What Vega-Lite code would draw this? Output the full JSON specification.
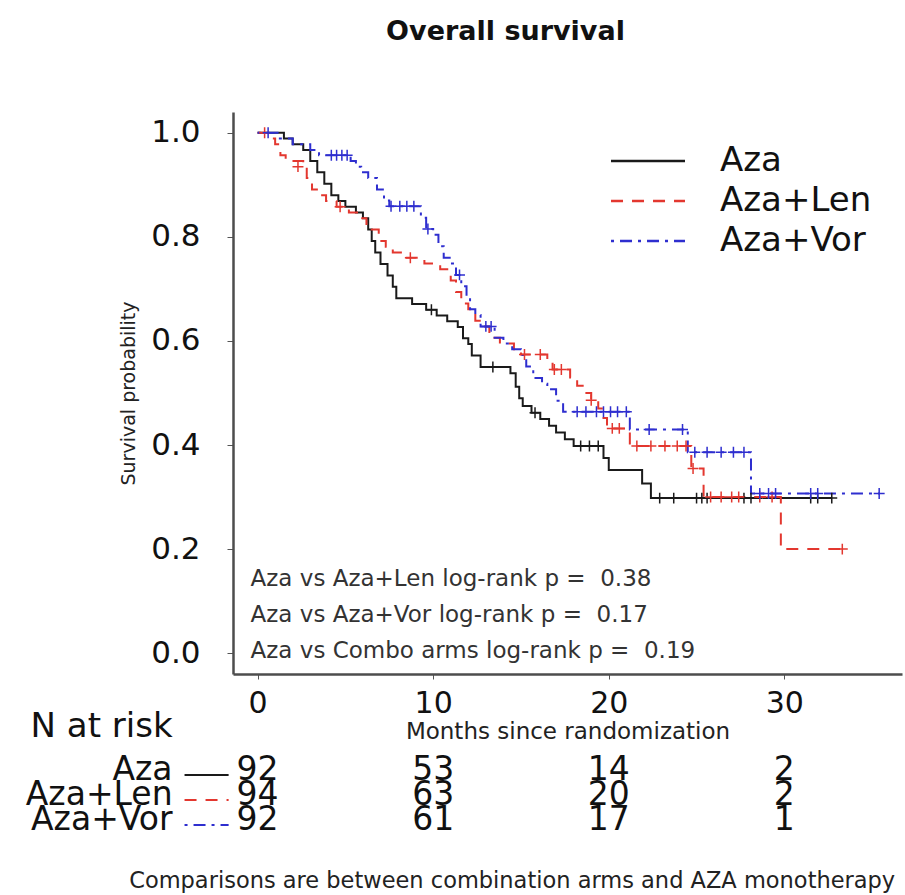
{
  "$schema": "https://vega.github.io/schema/vega-lite/v6.json",
  "width": 669,
  "height": 562,
  "autosize": {"type": "none"},
  "padding": {"left": 233, "top": 112, "right": 3, "bottom": 221},
  "background": "white",
  "config": {"view": {"stroke": null}, "font": "DejaVu Sans"},
  "title": {"text": "Overall survival", "fontSize": 27, "fontWeight": "bold", "font": "DejaVu Sans", "color": "#111", "anchor": "middle", "frame": "group", "dx": -62, "offset": 66},
  "datasets": {
    "km": [
      {"arm": "Aza", "month": 0, "surv": 1.0}, {"arm": "Aza", "month": 1.5, "surv": 0.989}, {"arm": "Aza", "month": 2.0, "surv": 0.978}, {"arm": "Aza", "month": 2.6, "surv": 0.967}, {"arm": "Aza", "month": 3.0, "surv": 0.946}, {"arm": "Aza", "month": 3.4, "surv": 0.924}, {"arm": "Aza", "month": 3.8, "surv": 0.902}, {"arm": "Aza", "month": 4.2, "surv": 0.880}, {"arm": "Aza", "month": 4.6, "surv": 0.869}, {"arm": "Aza", "month": 5.0, "surv": 0.858}, {"arm": "Aza", "month": 5.6, "surv": 0.847}, {"arm": "Aza", "month": 6.0, "surv": 0.836}, {"arm": "Aza", "month": 6.3, "surv": 0.814}, {"arm": "Aza", "month": 6.5, "surv": 0.792}, {"arm": "Aza", "month": 6.7, "surv": 0.770}, {"arm": "Aza", "month": 7.0, "surv": 0.748}, {"arm": "Aza", "month": 7.4, "surv": 0.726}, {"arm": "Aza", "month": 7.7, "surv": 0.704}, {"arm": "Aza", "month": 7.9, "surv": 0.682}, {"arm": "Aza", "month": 8.8, "surv": 0.671}, {"arm": "Aza", "month": 9.6, "surv": 0.660}, {"arm": "Aza", "month": 10.2, "surv": 0.649}, {"arm": "Aza", "month": 10.8, "surv": 0.638}, {"arm": "Aza", "month": 11.4, "surv": 0.627}, {"arm": "Aza", "month": 11.7, "surv": 0.605}, {"arm": "Aza", "month": 12.0, "surv": 0.594}, {"arm": "Aza", "month": 12.2, "surv": 0.572}, {"arm": "Aza", "month": 12.7, "surv": 0.550}, {"arm": "Aza", "month": 14.4, "surv": 0.538}, {"arm": "Aza", "month": 14.7, "surv": 0.512}, {"arm": "Aza", "month": 14.9, "surv": 0.490}, {"arm": "Aza", "month": 15.1, "surv": 0.475}, {"arm": "Aza", "month": 15.6, "surv": 0.462}, {"arm": "Aza", "month": 16.1, "surv": 0.450}, {"arm": "Aza", "month": 16.6, "surv": 0.437}, {"arm": "Aza", "month": 17.0, "surv": 0.424}, {"arm": "Aza", "month": 17.5, "surv": 0.411}, {"arm": "Aza", "month": 18.0, "surv": 0.398}, {"arm": "Aza", "month": 19.7, "surv": 0.375}, {"arm": "Aza", "month": 20.0, "surv": 0.352}, {"arm": "Aza", "month": 21.9, "surv": 0.326}, {"arm": "Aza", "month": 22.4, "surv": 0.298}, {"arm": "Aza", "month": 32.7, "surv": 0.298},
      {"arm": "Aza+Len", "month": 0, "surv": 1.0}, {"arm": "Aza+Len", "month": 0.8, "surv": 0.989}, {"arm": "Aza+Len", "month": 1.0, "surv": 0.978}, {"arm": "Aza+Len", "month": 1.3, "surv": 0.957}, {"arm": "Aza+Len", "month": 1.6, "surv": 0.946}, {"arm": "Aza+Len", "month": 2.6, "surv": 0.935}, {"arm": "Aza+Len", "month": 2.8, "surv": 0.913}, {"arm": "Aza+Len", "month": 3.1, "surv": 0.891}, {"arm": "Aza+Len", "month": 3.6, "surv": 0.880}, {"arm": "Aza+Len", "month": 3.9, "surv": 0.869}, {"arm": "Aza+Len", "month": 4.5, "surv": 0.858}, {"arm": "Aza+Len", "month": 5.2, "surv": 0.847}, {"arm": "Aza+Len", "month": 5.8, "surv": 0.836}, {"arm": "Aza+Len", "month": 6.2, "surv": 0.825}, {"arm": "Aza+Len", "month": 6.5, "surv": 0.814}, {"arm": "Aza+Len", "month": 6.9, "surv": 0.792}, {"arm": "Aza+Len", "month": 7.3, "surv": 0.781}, {"arm": "Aza+Len", "month": 7.7, "surv": 0.770}, {"arm": "Aza+Len", "month": 8.3, "surv": 0.760}, {"arm": "Aza+Len", "month": 9.5, "surv": 0.749}, {"arm": "Aza+Len", "month": 10.4, "surv": 0.738}, {"arm": "Aza+Len", "month": 11.0, "surv": 0.716}, {"arm": "Aza+Len", "month": 11.3, "surv": 0.694}, {"arm": "Aza+Len", "month": 11.6, "surv": 0.672}, {"arm": "Aza+Len", "month": 12.0, "surv": 0.661}, {"arm": "Aza+Len", "month": 12.4, "surv": 0.639}, {"arm": "Aza+Len", "month": 12.8, "surv": 0.628}, {"arm": "Aza+Len", "month": 13.2, "surv": 0.606}, {"arm": "Aza+Len", "month": 13.8, "surv": 0.595}, {"arm": "Aza+Len", "month": 14.6, "surv": 0.584}, {"arm": "Aza+Len", "month": 15.0, "surv": 0.574}, {"arm": "Aza+Len", "month": 16.5, "surv": 0.560}, {"arm": "Aza+Len", "month": 16.8, "surv": 0.545}, {"arm": "Aza+Len", "month": 17.8, "surv": 0.530}, {"arm": "Aza+Len", "month": 18.2, "surv": 0.514}, {"arm": "Aza+Len", "month": 18.6, "surv": 0.500}, {"arm": "Aza+Len", "month": 19.0, "surv": 0.486}, {"arm": "Aza+Len", "month": 19.4, "surv": 0.470}, {"arm": "Aza+Len", "month": 19.7, "surv": 0.452}, {"arm": "Aza+Len", "month": 19.9, "surv": 0.432}, {"arm": "Aza+Len", "month": 21.2, "surv": 0.398}, {"arm": "Aza+Len", "month": 24.7, "surv": 0.355}, {"arm": "Aza+Len", "month": 25.4, "surv": 0.300}, {"arm": "Aza+Len", "month": 29.8, "surv": 0.200}, {"arm": "Aza+Len", "month": 33.3, "surv": 0.200},
      {"arm": "Aza+Vor", "month": 0, "surv": 1.0}, {"arm": "Aza+Vor", "month": 1.2, "surv": 0.989}, {"arm": "Aza+Vor", "month": 2.0, "surv": 0.978}, {"arm": "Aza+Vor", "month": 3.0, "surv": 0.967}, {"arm": "Aza+Vor", "month": 3.5, "surv": 0.957}, {"arm": "Aza+Vor", "month": 5.3, "surv": 0.946}, {"arm": "Aza+Vor", "month": 5.6, "surv": 0.935}, {"arm": "Aza+Vor", "month": 5.9, "surv": 0.924}, {"arm": "Aza+Vor", "month": 6.3, "surv": 0.913}, {"arm": "Aza+Vor", "month": 6.8, "surv": 0.891}, {"arm": "Aza+Vor", "month": 7.2, "surv": 0.870}, {"arm": "Aza+Vor", "month": 7.5, "surv": 0.859}, {"arm": "Aza+Vor", "month": 9.3, "surv": 0.837}, {"arm": "Aza+Vor", "month": 9.6, "surv": 0.815}, {"arm": "Aza+Vor", "month": 10.0, "surv": 0.804}, {"arm": "Aza+Vor", "month": 10.3, "surv": 0.782}, {"arm": "Aza+Vor", "month": 10.6, "surv": 0.760}, {"arm": "Aza+Vor", "month": 11.0, "surv": 0.749}, {"arm": "Aza+Vor", "month": 11.3, "surv": 0.727}, {"arm": "Aza+Vor", "month": 11.6, "surv": 0.705}, {"arm": "Aza+Vor", "month": 11.9, "surv": 0.683}, {"arm": "Aza+Vor", "month": 12.1, "surv": 0.661}, {"arm": "Aza+Vor", "month": 12.4, "surv": 0.650}, {"arm": "Aza+Vor", "month": 12.7, "surv": 0.628}, {"arm": "Aza+Vor", "month": 13.5, "surv": 0.606}, {"arm": "Aza+Vor", "month": 14.0, "surv": 0.595}, {"arm": "Aza+Vor", "month": 14.5, "surv": 0.584}, {"arm": "Aza+Vor", "month": 15.0, "surv": 0.573}, {"arm": "Aza+Vor", "month": 15.3, "surv": 0.551}, {"arm": "Aza+Vor", "month": 15.7, "surv": 0.529}, {"arm": "Aza+Vor", "month": 16.2, "surv": 0.518}, {"arm": "Aza+Vor", "month": 16.5, "surv": 0.507}, {"arm": "Aza+Vor", "month": 17.0, "surv": 0.485}, {"arm": "Aza+Vor", "month": 17.4, "surv": 0.464}, {"arm": "Aza+Vor", "month": 21.2, "surv": 0.430}, {"arm": "Aza+Vor", "month": 24.5, "surv": 0.386}, {"arm": "Aza+Vor", "month": 28.1, "surv": 0.307}, {"arm": "Aza+Vor", "month": 35.4, "surv": 0.307}
    ],
    "cens": [
      {"arm": "Aza", "month": 9.9, "surv": 0.660}, {"arm": "Aza", "month": 13.4, "surv": 0.550}, {"arm": "Aza", "month": 15.8, "surv": 0.462}, {"arm": "Aza", "month": 18.4, "surv": 0.398}, {"arm": "Aza", "month": 18.9, "surv": 0.398}, {"arm": "Aza", "month": 19.4, "surv": 0.398}, {"arm": "Aza", "month": 22.9, "surv": 0.298}, {"arm": "Aza", "month": 23.7, "surv": 0.298}, {"arm": "Aza", "month": 25.0, "surv": 0.298}, {"arm": "Aza", "month": 25.3, "surv": 0.298}, {"arm": "Aza", "month": 25.6, "surv": 0.298}, {"arm": "Aza", "month": 27.7, "surv": 0.298}, {"arm": "Aza", "month": 28.1, "surv": 0.298}, {"arm": "Aza", "month": 31.5, "surv": 0.298}, {"arm": "Aza", "month": 31.9, "surv": 0.298}, {"arm": "Aza", "month": 32.7, "surv": 0.298},
      {"arm": "Aza+Len", "month": 0.4, "surv": 1.0}, {"arm": "Aza+Len", "month": 2.3, "surv": 0.935}, {"arm": "Aza+Len", "month": 4.7, "surv": 0.858}, {"arm": "Aza+Len", "month": 8.7, "surv": 0.760}, {"arm": "Aza+Len", "month": 15.2, "surv": 0.574}, {"arm": "Aza+Len", "month": 16.1, "surv": 0.574}, {"arm": "Aza+Len", "month": 16.9, "surv": 0.545}, {"arm": "Aza+Len", "month": 17.3, "surv": 0.545}, {"arm": "Aza+Len", "month": 19.0, "surv": 0.486}, {"arm": "Aza+Len", "month": 20.2, "surv": 0.432}, {"arm": "Aza+Len", "month": 20.6, "surv": 0.432}, {"arm": "Aza+Len", "month": 21.6, "surv": 0.398}, {"arm": "Aza+Len", "month": 22.4, "surv": 0.398}, {"arm": "Aza+Len", "month": 23.2, "surv": 0.398}, {"arm": "Aza+Len", "month": 23.9, "surv": 0.398}, {"arm": "Aza+Len", "month": 24.4, "surv": 0.398}, {"arm": "Aza+Len", "month": 24.8, "surv": 0.355}, {"arm": "Aza+Len", "month": 25.8, "surv": 0.300}, {"arm": "Aza+Len", "month": 26.4, "surv": 0.300}, {"arm": "Aza+Len", "month": 27.0, "surv": 0.300}, {"arm": "Aza+Len", "month": 27.4, "surv": 0.300}, {"arm": "Aza+Len", "month": 28.6, "surv": 0.300}, {"arm": "Aza+Len", "month": 29.3, "surv": 0.300}, {"arm": "Aza+Len", "month": 33.3, "surv": 0.200},
      {"arm": "Aza+Vor", "month": 0.6, "surv": 1.0}, {"arm": "Aza+Vor", "month": 4.2, "surv": 0.957}, {"arm": "Aza+Vor", "month": 4.5, "surv": 0.957}, {"arm": "Aza+Vor", "month": 4.8, "surv": 0.957}, {"arm": "Aza+Vor", "month": 5.1, "surv": 0.957}, {"arm": "Aza+Vor", "month": 7.6, "surv": 0.859}, {"arm": "Aza+Vor", "month": 8.1, "surv": 0.859}, {"arm": "Aza+Vor", "month": 8.5, "surv": 0.859}, {"arm": "Aza+Vor", "month": 8.9, "surv": 0.859}, {"arm": "Aza+Vor", "month": 9.7, "surv": 0.815}, {"arm": "Aza+Vor", "month": 11.5, "surv": 0.727}, {"arm": "Aza+Vor", "month": 13.0, "surv": 0.628}, {"arm": "Aza+Vor", "month": 13.3, "surv": 0.628}, {"arm": "Aza+Vor", "month": 18.2, "surv": 0.464}, {"arm": "Aza+Vor", "month": 18.7, "surv": 0.464}, {"arm": "Aza+Vor", "month": 19.3, "surv": 0.464}, {"arm": "Aza+Vor", "month": 19.7, "surv": 0.464}, {"arm": "Aza+Vor", "month": 20.1, "surv": 0.464}, {"arm": "Aza+Vor", "month": 20.5, "surv": 0.464}, {"arm": "Aza+Vor", "month": 21.0, "surv": 0.464}, {"arm": "Aza+Vor", "month": 22.3, "surv": 0.430}, {"arm": "Aza+Vor", "month": 24.2, "surv": 0.430}, {"arm": "Aza+Vor", "month": 24.9, "surv": 0.386}, {"arm": "Aza+Vor", "month": 25.6, "surv": 0.386}, {"arm": "Aza+Vor", "month": 26.4, "surv": 0.386}, {"arm": "Aza+Vor", "month": 27.1, "surv": 0.386}, {"arm": "Aza+Vor", "month": 27.7, "surv": 0.386}, {"arm": "Aza+Vor", "month": 28.6, "surv": 0.307}, {"arm": "Aza+Vor", "month": 29.1, "surv": 0.307}, {"arm": "Aza+Vor", "month": 29.5, "surv": 0.307}, {"arm": "Aza+Vor", "month": 31.5, "surv": 0.307}, {"arm": "Aza+Vor", "month": 31.9, "surv": 0.307}, {"arm": "Aza+Vor", "month": 35.4, "surv": 0.307}
    ],
    "risk": [
      {"arm": "Aza", "month": 0, "n": 92}, {"arm": "Aza", "month": 10, "n": 53}, {"arm": "Aza", "month": 20, "n": 14}, {"arm": "Aza", "month": 30, "n": 2},
      {"arm": "Aza+Len", "month": 0, "n": 94}, {"arm": "Aza+Len", "month": 10, "n": 63}, {"arm": "Aza+Len", "month": 20, "n": 20}, {"arm": "Aza+Len", "month": 30, "n": 2},
      {"arm": "Aza+Vor", "month": 0, "n": 92}, {"arm": "Aza+Vor", "month": 10, "n": 61}, {"arm": "Aza+Vor", "month": 20, "n": 17}, {"arm": "Aza+Vor", "month": 30, "n": 1}
    ],
    "arms": [{"arm": "Aza"}, {"arm": "Aza+Len"}, {"arm": "Aza+Vor"}]
  },
  "layer": [
    {
      "layer": [
        {
          "data": {"name": "km"},
          "mark": {"type": "line", "interpolate": "step-after", "strokeWidth": 2, "clip": false},
          "encoding": {
            "x": {"field": "month", "type": "quantitative", "scale": {"domain": [-1.4, 36.7], "nice": false, "zero": false},
              "axis": {"values": [0, 10, 20, 30], "title": "Months since randomization", "titleFontSize": 23, "titleFont": "DejaVu Sans", "titleFontWeight": "normal", "titleColor": "#222", "labelFontSize": 30, "labelFont": "DejaVu Sans", "labelColor": "#111", "tickSize": 5, "tickColor": "#555", "domainColor": "#4d4d4d", "domainWidth": 2.5, "labelPadding": 9, "titlePadding": 2, "grid": false, "labelFlush": false}},
            "y": {"field": "surv", "type": "quantitative", "scale": {"domain": [-0.04, 1.04], "nice": false, "zero": false},
              "axis": {"values": [0, 0.2, 0.4, 0.6, 0.8, 1.0], "format": ".1f", "title": "Survival probability", "titleFontSize": 19, "titleFont": "DejaVu Sans", "titleFontWeight": "normal", "titleColor": "#222", "labelFontSize": 31, "labelFont": "DejaVu Sans", "labelColor": "#111", "tickSize": 6, "tickColor": "#555", "domainColor": "#4d4d4d", "domainWidth": 2.5, "labelPadding": 27, "titlePadding": 12, "grid": false, "labelFlush": false}},
            "color": {"field": "arm", "type": "nominal", "scale": {"domain": ["Aza", "Aza+Len", "Aza+Vor"], "range": ["#1a1a1a", "#E3372F", "#2E2ECF"]},
              "legend": {"title": null, "orient": "none", "legendX": 398, "legendY": 32, "symbolType": "M-3,0L3,0", "symbolSize": 608, "symbolStrokeWidth": 2.5, "labelFontSize": 34, "labelFont": "DejaVu Sans", "labelColor": "#111", "labelOffset": 55, "rowPadding": 6}},
            "strokeDash": {"field": "arm", "type": "nominal", "scale": {"domain": ["Aza", "Aza+Len", "Aza+Vor"], "range": [[1, 0], [12, 9], [3, 6, 12, 6]]},
              "legend": {"title": null, "orient": "none", "legendX": 398, "legendY": 32, "symbolType": "M-3,0L3,0", "symbolSize": 608, "symbolStrokeWidth": 2.5, "labelFontSize": 34, "labelFont": "DejaVu Sans", "labelColor": "#111", "labelOffset": 55, "rowPadding": 6}},
            "order": {"field": "month", "type": "quantitative"}
          }
        },
        {
          "data": {"name": "cens"},
          "mark": {"type": "point", "shape": "M-1,0L1,0M0,-1L0,1", "filled": false, "strokeWidth": 1.5, "size": 120, "opacity": 1, "clip": false},
          "encoding": {
            "x": {"field": "month", "type": "quantitative"},
            "y": {"field": "surv", "type": "quantitative"},
            "color": {"field": "arm", "type": "nominal", "legend": null}
          }
        },
        {
          "data": {"values": [{}]},
          "mark": {"type": "text", "align": "left", "baseline": "top", "fontSize": 23, "font": "DejaVu Sans", "color": "#333", "lineHeight": 36, "text": ["Aza vs Aza+Len log-rank p = \u00a00.38", "Aza vs Aza+Vor log-rank p = \u00a00.17", "Aza vs Combo arms log-rank p = \u00a00.19"]},
          "encoding": {"x": {"datum": -0.4, "type": "quantitative"}, "y": {"datum": 0.163, "type": "quantitative"}}
        },
        {
          "data": {"values": [{}]},
          "mark": {"type": "text", "align": "right", "baseline": "middle", "fontSize": 34, "font": "DejaVu Sans", "color": "#111", "text": "N at risk", "clip": false},
          "encoding": {"x": {"datum": -4.84, "type": "quantitative"}, "y": {"datum": -0.1416, "type": "quantitative"}}
        },
        {
          "data": {"values": [{}]},
          "mark": {"type": "text", "align": "center", "baseline": "middle", "fontSize": 22.5, "font": "DejaVu Sans", "color": "#222", "text": "Comparisons are between combination arms and AZA monotherapy", "clip": false},
          "encoding": {"x": {"datum": 14.5, "type": "quantitative"}, "y": {"datum": -0.437, "type": "quantitative"}}
        }
      ]
    },
    {
      "layer": [
        {
          "data": {"name": "risk"},
          "mark": {"type": "text", "align": "center", "baseline": "middle", "fontSize": 33, "font": "DejaVu Sans", "color": "#111", "clip": false},
          "encoding": {
            "x": {"field": "month", "type": "quantitative"},
            "y": {"field": "arm", "type": "nominal", "scale": {"type": "point", "domain": ["Aza", "Aza+Len", "Aza+Vor"], "range": [658, 708], "padding": 0}, "axis": null},
            "text": {"field": "n", "type": "quantitative"}
          }
        },
        {
          "data": {"name": "arms"},
          "mark": {"type": "text", "align": "right", "baseline": "middle", "fontSize": 33, "font": "DejaVu Sans", "color": "#111", "clip": false},
          "encoding": {
            "x": {"datum": -4.84, "type": "quantitative"},
            "y": {"field": "arm", "type": "nominal"},
            "text": {"field": "arm", "type": "nominal"}
          }
        },
        {
          "data": {"name": "arms"},
          "mark": {"type": "rule", "strokeWidth": 2, "clip": false, "yOffset": 5},
          "encoding": {
            "x": {"datum": -4.16, "type": "quantitative"},
            "x2": {"datum": -1.65},
            "y": {"field": "arm", "type": "nominal"},
            "color": {"field": "arm", "type": "nominal", "legend": null},
            "strokeDash": {"field": "arm", "type": "nominal", "legend": null}
          }
        }
      ]
    }
  ],
  "resolve": {"scale": {"y": "independent"}}
}
